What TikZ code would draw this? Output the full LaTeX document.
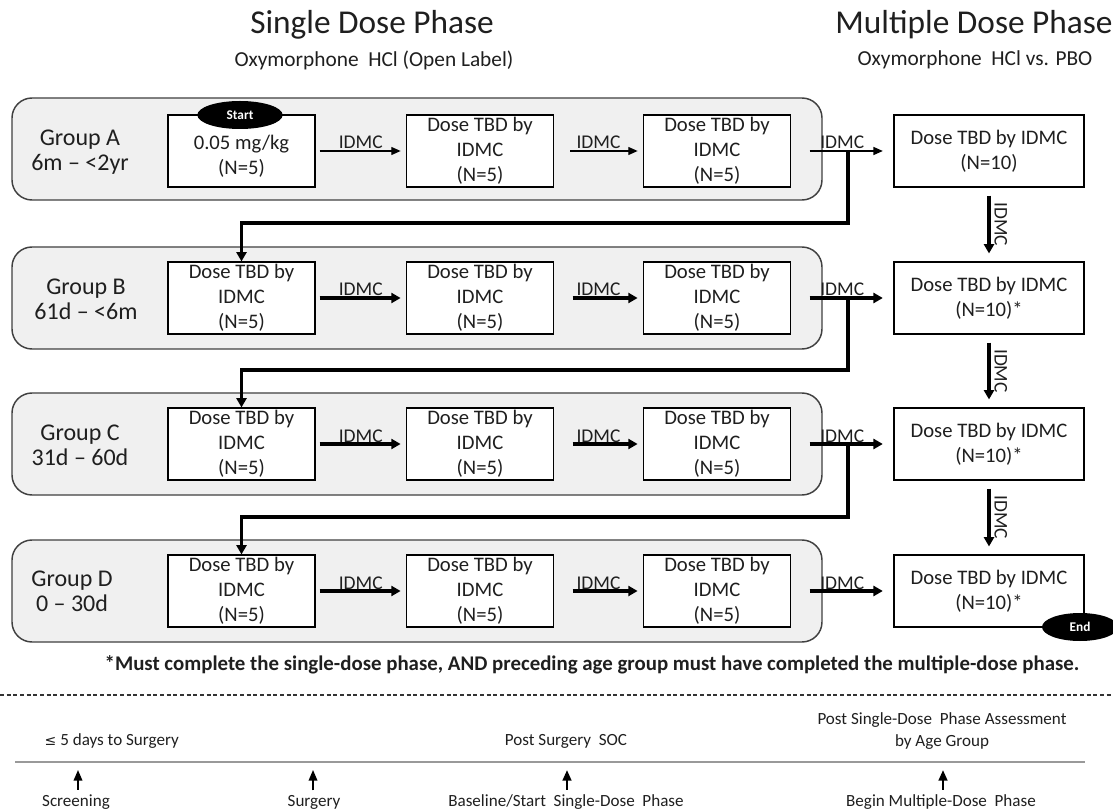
\documentclass[tikz,border=0pt]{standalone}
\usepackage{fontspec}
\setmainfont{Carlito}
\newfontfamily\symfont{DejaVu Sans}
\usetikzlibrary{arrows.meta,shapes.geometric}
\begin{document}
\begin{tikzpicture}[x=0.75pt,y=-0.75pt,
 every node/.style={text=black!88},
 grp/.style={draw=black!75, fill=black!6, rounded corners=15pt, line width=1.1pt, minimum width=607.5pt, minimum height=76.5pt},
 dbox/.style={draw=black, fill=white, line width=0.8pt, minimum width=110.25pt, minimum height=54pt, align=center, font=\fontsize{15.5}{18.75}\selectfont, inner sep=0pt},
 rbox/.style={dbox, minimum width=142.5pt},
 glabel/.style={align=center, font=\fontsize{18}{19}\selectfont},
 tarr/.style={line width=0.9pt, -{Triangle[length=7pt,width=6pt]}},
 karr/.style={line width=2.3pt, -{Triangle[length=7pt,width=7.5pt]}},
 lbl/.style={font=\fontsize{14.6}{16}\selectfont, anchor=base, inner sep=0pt, yshift=1.5pt},
 oval/.style={ellipse, fill=black, text=white, font=\bfseries\fontsize{10}{11}\selectfont, minimum width=64pt, minimum height=21pt, inner sep=0pt},
 ttl/.style={font=\fontsize{25}{27}\selectfont},
 sttl/.style={font=\fontsize{16}{18}\selectfont},
 tl/.style={font=\fontsize{12.8}{16.5}\selectfont, align=center},
 uarr/.style={line width=1.1pt, -{Triangle[length=8pt,width=6.5pt]}},
]
\useasboundingbox (0,0) rectangle (1113,812);

% titles
\node[ttl] (t1) at (372,25) {Single Dose Phase};
\node[sttl] (s1) at (374,60) {Oxymorphone\ \ HCl (Open Label)};
\node[ttl] (t2) at (974,25) {Multiple Dose Phase};
\node[sttl] (s2) at (975,60) {Oxymorphone\ \ HCl vs. PBO};

% group backgrounds
\node[grp] (gA) at (417,149) {};
\node[grp] (gB) at (417,298) {};
\node[grp] (gC) at (417,444) {};
\node[grp] (gD) at (417,591) {};

% group labels
\node[glabel] (lA) at (80,152) {Group A\\6m -- <2yr};
\node[glabel] (lB) at (86,299) {Group B\\61d -- <6m};
\node[glabel] (lC) at (80,445) {Group C\\31d -- 60d};
\node[glabel] (lD) at (72,591) {Group D\\0 -- 30d};

% boxes
\node[dbox] (A1) at (241.5,151) {\mbox{}\\0.05 mg/kg\\(N=5)};
\node[dbox] (A2) at (480,151) {Dose TBD by\\IDMC\\(N=5)};
\node[dbox] (A3) at (717,151) {Dose TBD by\\IDMC\\(N=5)};
\node[rbox] (RA) at (989,151) {Dose TBD by IDMC\\(N=10)};

\node[dbox] (B1) at (241.5,298) {Dose TBD by\\IDMC\\(N=5)};
\node[dbox] (B2) at (480,298) {Dose TBD by\\IDMC\\(N=5)};
\node[dbox] (B3) at (717,298) {Dose TBD by\\IDMC\\(N=5)};
\node[rbox] (RB) at (989,298) {Dose TBD by IDMC\\(N=10)*};

\node[dbox] (C1) at (241.5,444) {Dose TBD by\\IDMC\\(N=5)};
\node[dbox] (C2) at (480,444) {Dose TBD by\\IDMC\\(N=5)};
\node[dbox] (C3) at (717,444) {Dose TBD by\\IDMC\\(N=5)};
\node[rbox] (RC) at (989,444) {Dose TBD by IDMC\\(N=10)*};

\node[dbox] (D1) at (241.5,591) {Dose TBD by\\IDMC\\(N=5)};
\node[dbox] (D2) at (480,591) {Dose TBD by\\IDMC\\(N=5)};
\node[dbox] (D3) at (717,591) {Dose TBD by\\IDMC\\(N=5)};
\node[rbox] (RD) at (989,591) {Dose TBD by IDMC\\(N=10)*};

% start / end
\node[oval] (start) at (240,115) {Start};
\node[oval, minimum width=57pt] (end) at (1080,627) {End};

% horizontal arrows group A (thin)
\draw[tarr, shorten <=3pt, shorten >=4pt] (A1) -- node[lbl] {IDMC} (A2);
\draw[tarr, shorten <=12pt, shorten >=4pt] (A2) -- node[lbl] {IDMC} (A3);
\draw[tarr, shorten <=14pt, shorten >=8pt] (A3) -- node[lbl] {IDMC} (RA);

% groups B-D (thick)
\foreach \g in {B,C,D}{
  \draw[karr, shorten <=3pt, shorten >=4pt] (\g1) -- node[lbl] {IDMC} (\g2);
  \draw[karr, shorten <=14pt, shorten >=4pt] (\g2) -- node[lbl] {IDMC} (\g3);
  \draw[karr, shorten <=14pt, shorten >=8pt] (\g3) -- node[lbl] {IDMC} (R\g);
}

% elbow connectors
\coordinate (jA) at (848,151);
\coordinate (kA) at (848,223);
\coordinate (jB) at (848,298);
\coordinate (kB) at (848,370);
\coordinate (jC) at (848,444);
\coordinate (kC) at (848,517);
\draw[karr] (jA) -- (kA) -| (B1.north);
\draw[karr] (jB) -- (kB) -| (C1.north);
\draw[karr] (jC) -- (kC) -| (D1.north);

% right vertical arrows
\foreach \a/\b in {RA/RB,RB/RC,RC/RD}{
  \draw[karr, shorten <=6pt, shorten >=6pt] (\a) -- node[midway, rotate=-90, anchor=south, inner sep=3pt, font=\fontsize{14.5}{15}\selectfont] {IDMC} (\b);
}

% footnote
\node[font=\bfseries\fontsize{15}{17}\selectfont] (fn) at (592,665) {\resizebox{731pt}{!}{*Must complete the single-dose phase, AND preceding age group must have completed the multiple-dose phase.}};

% dashed separator
\draw[black!80, line width=0.8pt, dash pattern=on 3pt off 2pt] (0,695) -- (1113,695);

% timeline
\coordinate (L0) at (15,762);
\coordinate (L1) at (1085,762);
\draw[black!40, line width=1.6pt] (L0) -- (L1);

\node[tl, anchor=west] (pre) at (40,741) {{\symfont\fontsize{10.5}{12}\selectfont ≤} 5 days to Surgery};
\node[tl] (soc) at (566,741) {Post Surgery\ \ SOC};
\node[tl] (post) at (942,731) {Post Single-Dose\ \ Phase Assessment\\by Age Group};

\node[tl] (scr) at (76,802) {Screening};
\node[tl] (sur) at (314,802) {Surgery};
\node[tl] (bas) at (566,802) {Baseline/Start\ \ Single-Dose\ \ Phase};
\node[tl] (beg) at (941,802) {Begin Multiple-Dose\ \ Phase};

\coordinate (p1) at (78,762);
\coordinate (p2) at (313,762);
\coordinate (p3) at (567,762);
\coordinate (p4) at (943,762);
\draw[uarr, shorten >=6pt] (scr.north -| p1) -- (p1);
\draw[uarr, shorten >=6pt] (sur.north -| p2) -- (p2);
\draw[uarr, line width=1.8pt, shorten >=6pt] (bas.north -| p3) -- (p3);
\draw[uarr, line width=1.8pt, shorten >=6pt] (beg.north -| p4) -- (p4);
\end{tikzpicture}
\end{document}
